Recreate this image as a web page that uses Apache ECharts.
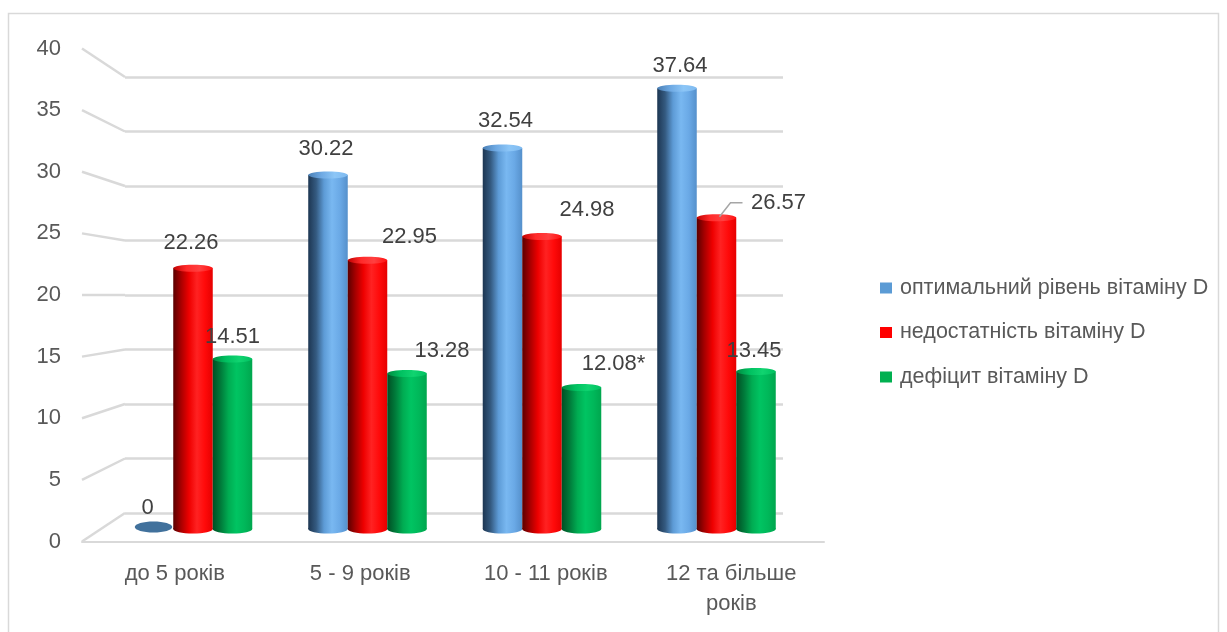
<!DOCTYPE html>
<html>
<head>
<meta charset="utf-8">
<title>Рівень вітаміну D за віковими групами</title>
<script src="https://cdn.jsdelivr.net/npm/echarts@6/dist/echarts.min.js"></script>
<style>
  html, body { margin: 0; padding: 0; background: #ffffff; }
  #chart { width: 1227px; height: 632px; }
</style>
</head>
<body>
<div id="chart"></div>
<script>
// ---- data ----
const categories = ['до 5 років', '5 - 9 років', '10 - 11 років', '12 та більше років'];
const seriesNames = ['оптимальний рівень вітаміну D', 'недостатність вітаміну D', 'дефіцит вітаміну D'];
const optimal = [0, 30.22, 32.54, 37.64];
const insufficient = [22.26, 22.95, 24.98, 26.57];
const deficient = [14.51, 13.28, 12.08, 13.45];
const deficientNotes = ['', '', '*', ''];
const yMin = 0, yMax = 40, yStep = 5;

// ---- styling ----
const FONT = '"Liberation Sans", Arial, sans-serif';
const GRID_GREY = '#d9d9d9';
const AXIS_TEXT = '#595959';
const LABEL_TEXT = '#404040';
const BAR_RATIO = 0.2264;           // width of one cylinder relative to the category band

// front plane (tick labels), back wall (grid lines) and the bars standing in between
const frontRect = { left: 82, top: 48.5, width: 742, height: 493 };
const backRect = { left: 125, top: 77, width: 658, height: 436 };
const barRect = { left: 105.75, top: 60.5, width: 698, height: 468.5 };

const palettes = [
  { legend: '#5b9bd5', flat: '#41719c',
    body: ['#1d3652', '#345a80', '#5d9bd6', '#79b8f1', '#6aa9e6', '#5590cb'],
    cap: ['#4a7fb5', '#6ea9e3', '#8cc6f7', '#7fbaf0'] },
  { legend: '#ff0000', flat: '#c00000',
    body: ['#5a0000', '#a80000', '#ee0000', '#ff2222', '#ff0a0a', '#e60000'],
    cap: ['#c00000', '#ff2a2a', '#ff4040', '#ff1010'] },
  { legend: '#00b050', flat: '#00803a',
    body: ['#004f24', '#007a3a', '#00ac52', '#00c462', '#00b85a', '#00a64e'],
    cap: ['#008a40', '#00c060', '#10d470', '#00c060'] }
];

// per-point label shift [dx, dy] from the top centre of each cylinder
const labelShift = [
  [[-6, -21], [-2, -26], [3, -27], [3, -22]],
  [[-2, -25], [42, -23], [45, -26], [62, -15]],
  [[0, -22], [35, -23], [32, -24], [-2, -21]]
];
const leaderLines = [[false, false, false, false], [false, false, false, true], [false, false, false, false]];

function gradient(colors) {
  const stops = colors.map((c, k) => ({ offset: k / (colors.length - 1), color: c }));
  return new echarts.graphic.LinearGradient(0, 0, 1, 0, stops);
}

function wrapLabel(text, maxChars) {
  const words = text.split(' ');
  const lines = [];
  let cur = '';
  words.forEach(w => {
    const next = cur ? cur + ' ' + w : w;
    if (next.length > maxChars && cur) { lines.push(cur); cur = w; } else { cur = next; }
  });
  lines.push(cur);
  return lines.join('\n');
}

function cylinderRenderer(s, notes) {
  const pal = palettes[s];
  return function (params, api) {
    const i = api.value(0);
    const v = api.value(1);
    const band = api.size([1, 0])[0];
    const w = band * BAR_RATIO;
    const rx = w / 2;
    const base = api.coord([i, 0]);
    const top = api.coord([i, v]);
    const cx = base[0] + (s - 1) * w;
    const children = [];
    if (v > 0) {
      children.push({ type: 'ellipse', shape: { cx: cx, cy: base[1], rx: rx, ry: 4.5 }, style: { fill: gradient(pal.body) } });
      children.push({ type: 'rect', shape: { x: cx - rx, y: top[1], width: w, height: base[1] - top[1] }, style: { fill: gradient(pal.body) } });
      children.push({ type: 'ellipse', shape: { cx: cx, cy: top[1], rx: rx, ry: 3.5 }, style: { fill: gradient(pal.cap) } });
    } else {
      children.push({ type: 'ellipse', shape: { cx: cx, cy: base[1] - 2, rx: rx - 1, ry: 5.5 }, style: { fill: pal.flat } });
    }
    const sh = labelShift[s][i];
    const lx = cx + sh[0];
    const ly = top[1] + sh[1];
    if (leaderLines[s][i]) {
      children.push({
        type: 'polyline',
        shape: { points: [[cx + 3, top[1] - 1], [cx + 14, ly], [cx + 26, ly]] },
        style: { stroke: '#a6a6a6', lineWidth: 1.5, fill: null }
      });
    }
    children.push({
      type: 'text', z2: 10,
      style: {
        text: String(v) + (notes ? notes[i] : ''),
        x: lx, y: ly, align: 'center', verticalAlign: 'middle',
        fill: LABEL_TEXT, fontSize: 22, fontFamily: FONT
      }
    });
    return { type: 'group', children: children };
  };
}

const seriesValues = [optimal, insufficient, deficient];
const seriesNotes = [null, null, deficientNotes];

const chart = echarts.init(document.getElementById('chart'));

const valueAxisBase = { type: 'value', min: yMin, max: yMax, interval: yStep };

chart.setOption({
  animation: false,
  backgroundColor: '#ffffff',
  grid: [
    Object.assign({}, frontRect),
    Object.assign({}, backRect),
    Object.assign({}, barRect)
  ],
  xAxis: [
    {
      gridIndex: 0, type: 'category', data: categories,
      axisLine: { show: true, lineStyle: { color: GRID_GREY, width: 2 } },
      axisTick: { show: false },
      axisLabel: {
        color: AXIS_TEXT, fontSize: 22, fontFamily: FONT, lineHeight: 30, margin: 17,
        formatter: t => wrapLabel(t, 14)
      }
    },
    { gridIndex: 1, type: 'category', data: categories, show: false },
    { gridIndex: 2, type: 'category', data: categories, show: false }
  ],
  yAxis: [
    Object.assign({}, valueAxisBase, {
      gridIndex: 0,
      axisLine: { show: false }, axisTick: { show: false }, splitLine: { show: false },
      axisLabel: { color: AXIS_TEXT, fontSize: 22, fontFamily: FONT, margin: 21 }
    }),
    Object.assign({}, valueAxisBase, {
      gridIndex: 1,
      axisLine: { show: false }, axisTick: { show: false }, axisLabel: { show: false },
      splitLine: { show: true, lineStyle: { color: GRID_GREY, width: 2.5 } }
    }),
    Object.assign({}, valueAxisBase, { gridIndex: 2, show: false })
  ],
  legend: {
    orient: 'vertical',
    left: 875, top: 271,
    itemWidth: 12, itemHeight: 11, itemGap: 20.5,
    icon: 'rect',
    textStyle: { color: AXIS_TEXT, fontSize: 21.5, fontFamily: FONT, lineHeight: 24, padding: [0, 0, 0, 3] },
    data: seriesNames.map((n, k) => ({ name: n, itemStyle: { color: palettes[k].legend } }))
  },
  series: seriesValues.map((vals, s) => ({
    type: 'custom',
    name: seriesNames[s],
    xAxisIndex: 2, yAxisIndex: 2,
    itemStyle: { color: palettes[s].legend },
    encode: { x: 0, y: 1 },
    data: vals.map((v, i) => [i, v]),
    renderItem: cylinderRenderer(s, seriesNotes[s])
  }))
});

// outer frame and the slanted links between the front tick positions and the back wall
const graphics = [{
  type: 'rect', silent: true, z: -10,
  shape: { x: 8.5, y: 13.5, width: 1210, height: 640 },
  style: { fill: null, stroke: GRID_GREY, lineWidth: 1.5 }
}];
for (let v = yMin; v <= yMax; v += yStep) {
  const yf = chart.convertToPixel({ yAxisIndex: 0 }, v);
  const yb = chart.convertToPixel({ yAxisIndex: 1 }, v);
  graphics.push({
    type: 'line', silent: true, z: -5,
    shape: { x1: frontRect.left, y1: yf, x2: backRect.left, y2: yb },
    style: { stroke: GRID_GREY, lineWidth: 2.5 }
  });
}
chart.setOption({ graphic: graphics });
</script>
</body>
</html>
